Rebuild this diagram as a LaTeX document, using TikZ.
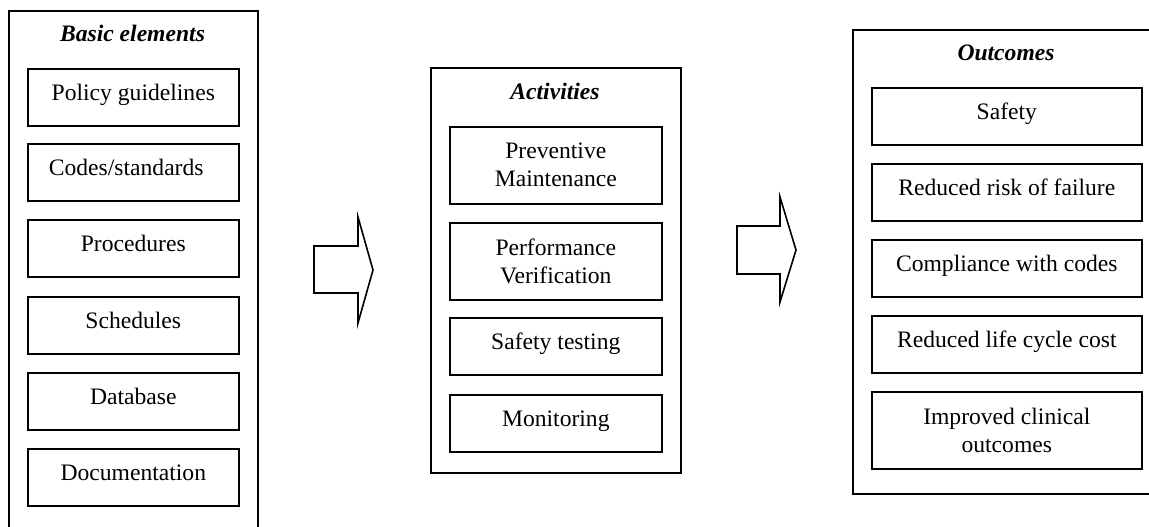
\documentclass[tikz,border=0pt]{standalone}
\usepackage{fontspec}
\setmainfont{Liberation Serif}
\begin{document}
\begin{tikzpicture}[x=0.75pt,y=-0.75pt,
  font=\fontsize{17.7pt}{21pt}\selectfont,
  frame/.style={draw, line width=1.2pt, anchor=north west, inner sep=0pt},
  outerbox/.style n args={2}{frame, minimum width=#1*0.75pt, minimum height=#2*0.75pt},
  sbox/.style={frame, minimum width=#1*0.75pt, minimum height=42.75pt,
     text height=24pt, text depth=18.75pt},
  dbox/.style={frame, minimum width=#1*0.75pt, minimum height=57.75pt, align=center},
  title/.style={anchor=base, inner sep=0pt, font=\fontsize{17.7pt}{21pt}\selectfont\bfseries\itshape},
  blockarrow/.style={draw, line width=1.2pt, line join=miter}
]
\useasboundingbox (0,0) rectangle (1149,527);
\clip (0,0) rectangle (1149,527);

% outer containers
\node[outerbox={249}{535}] (basic) at (8,10) {};
\node[outerbox={250}{405}] (act) at (430,67) {};
\node[outerbox={318}{464}] (out) at (852,29) {};

% titles
\node[title] (tbasic) at (132.5,42) {Basic elements};
\node[title] (tact) at (555,100) {Activities};
\node[title] (tout) at (1006,61) {Outcomes};

% basic elements
\node[sbox=211] (b1) at (27,68)  {Policy guidelines};
\node[sbox=211] (b2) at (27,143) {Codes/standards\hspace*{0.6em}};
\node[sbox=211] (b3) at (27,219) {Procedures};
\node[sbox=211] (b4) at (27,296) {Schedules};
\node[sbox=211] (b5) at (27,372) {Database};
\node[sbox=211] (b6) at (27,448) {Documentation};

% activities
\node[dbox=212] (a1) at (449,126) {Preventive\\Maintenance};
\node[dbox=212] (a2) at (449,222) {Performance\\Verification};
\node[sbox=212] (a3) at (449,317) {Safety testing};
\node[sbox=212] (a4) at (449,394) {Monitoring};

% outcomes
\node[sbox=270] (o1) at (871,87)  {Safety};
\node[sbox=270] (o2) at (871,163) {Reduced risk of failure};
\node[sbox=270] (o3) at (871,239) {Compliance with codes};
\node[sbox=270] (o4) at (871,315) {Reduced life cycle cost};
\node[dbox=270] (o5) at (871,391) {Improved clinical\\outcomes};

% block arrows
\draw[blockarrow] (314,246) -- (358,246) -- (358,217) -- (373,270) -- (358,323) -- (358,293) -- (314,293) -- cycle;
\draw[blockarrow] (737,226) -- (780,226) -- (780,197) -- (796,250) -- (780,302) -- (780,274) -- (737,274) -- cycle;
\end{tikzpicture}
\end{document}
